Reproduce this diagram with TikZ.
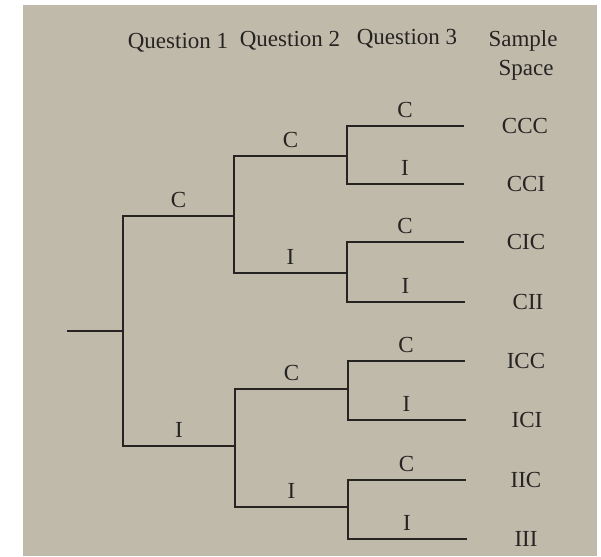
\documentclass[tikz,border=0pt]{standalone}
\usepackage{fontspec}
\setmainfont{Liberation Serif}
\usetikzlibrary{positioning}
\definecolor{paper}{RGB}{192,186,171}
\definecolor{ink}{RGB}{38,36,34}
\tikzset{
	branch/.style={line width=1.4pt, color=ink, line cap=rect},
	lab/.style={text=ink, font=\fontsize{23}{27}\selectfont, inner sep=0pt},
	brlab/.style={lab, above=8pt}
}
\begin{document}
\begin{tikzpicture}[x=1pt, y=-1pt]
			%%%%% START %%%%%
			
			\fill[white] (0, 0) rectangle (601, 556);
			\fill[paper] (23, 5) rectangle (597, 556);
			
			% headings
			\node[lab, anchor=base] (hq1) at (178, 49) {Question 1};
			\node[lab, anchor=base] (hq2) at (290, 47) {Question 2};
			\node[lab, anchor=base] (hq3) at (407, 45) {Question 3};
			\node[lab, anchor=base] (hsa) at (523, 47) {Sample};
			\node[lab, anchor=base] (hsp) at (526, 76) {Space};
			
			% forks
			\coordinate (start) at (68, 331);
			\coordinate (q1) at (123, 331);
			\coordinate (c) at (234, 216);
			\coordinate (i) at (235, 446);
			\coordinate (cc) at (347, 156);
			\coordinate (ci) at (347, 273);
			\coordinate (ic) at (348, 389);
			\coordinate (ii) at (348, 507);
			
			% leaf ends
			\coordinate (eccc) at (463, 126);
			\coordinate (ecci) at (463, 184);
			\coordinate (ecic) at (463, 242);
			\coordinate (ecii) at (464, 302);
			\coordinate (eicc) at (464, 361);
			\coordinate (eici) at (465, 420);
			\coordinate (eiic) at (465, 480);
			\coordinate (eiii) at (466, 539);
			
			\draw[branch] (start) -- (q1);
			
			% question 1
			\draw[branch] (q1 |- c) -- (q1 |- i);
			\draw[branch] (q1 |- c) -- node[brlab] (lc) {C} (c);
			\draw[branch] (q1 |- i) -- node[brlab] (li) {I} (i);
			
			% question 2
			\draw[branch] (c |- cc) -- (c |- ci);
			\draw[branch] (c |- cc) -- node[brlab] (lcc) {C} (cc);
			\draw[branch] (c |- ci) -- node[brlab] (lci) {I} (ci);
			\draw[branch] (i |- ic) -- (i |- ii);
			\draw[branch] (i |- ic) -- node[brlab] (lic) {C} (ic);
			\draw[branch] (i |- ii) -- node[brlab] (lii) {I} (ii);
			
			% question 3
			\draw[branch] (cc |- eccc) -- (cc |- ecci);
			\draw[branch] (cc |- eccc) -- node[brlab] (lccc) {C} (eccc);
			\draw[branch] (cc |- ecci) -- node[brlab] (lcci) {I} (ecci);
			\draw[branch] (ci |- ecic) -- (ci |- ecii);
			\draw[branch] (ci |- ecic) -- node[brlab] (lcic) {C} (ecic);
			\draw[branch] (ci |- ecii) -- node[brlab] (lcii) {I} (ecii);
			\draw[branch] (ic |- eicc) -- (ic |- eici);
			\draw[branch] (ic |- eicc) -- node[brlab] (licc) {C} (eicc);
			\draw[branch] (ic |- eici) -- node[brlab] (lici) {I} (eici);
			\draw[branch] (ii |- eiic) -- (ii |- eiii);
			\draw[branch] (ii |- eiic) -- node[brlab] (liic) {C} (eiic);
			\draw[branch] (ii |- eiii) -- node[brlab] (liii) {I} (eiii);
			
			% sample space
			\node[lab] (sccc) at ([xshift=62pt]eccc) {CCC};
			\node[lab] (scci) at ([xshift=63pt]ecci) {CCI};
			\node[lab] (scic) at ([xshift=63pt]ecic) {CIC};
			\node[lab] (scii) at ([xshift=64pt]ecii) {CII};
			\node[lab] (sicc) at ([xshift=62pt]eicc) {ICC};
			\node[lab] (sici) at ([xshift=62pt]eici) {ICI};
			\node[lab] (siic) at ([xshift=61pt]eiic) {IIC};
			\node[lab] (siii) at ([xshift=60pt]eiii) {III};
			
			%%%%% END %%%%%
\end{tikzpicture}
\end{document}
